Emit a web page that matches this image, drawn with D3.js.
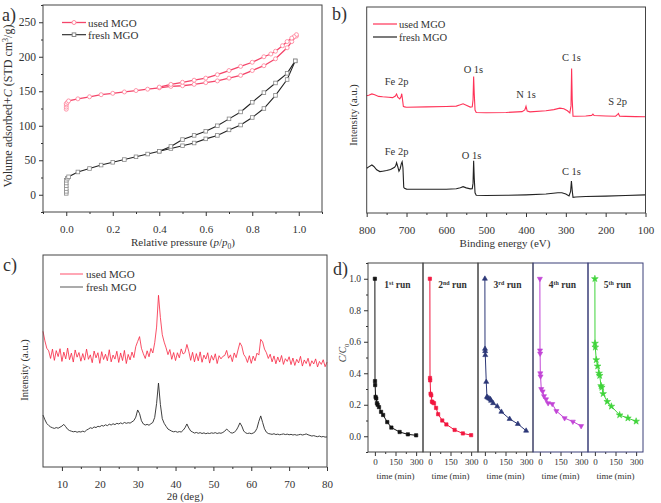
<!DOCTYPE html>
<html><head><meta charset="utf-8">
<script src="https://cdn.jsdelivr.net/npm/d3@7"></script>
<style>
body{margin:0;background:#fff}
svg{display:block}
text{font-family:"Liberation Serif","Times New Roman",serif;fill:#333}
</style>
</head><body>
<svg id="chart" width="661" height="503"></svg>
<script>
// ---------------- Panel a: N2 isotherms ----------------
const usedAdsP = [0.0,0.0,0.0,0.0,0.005,0.01,0.05,0.1,0.15,0.2,0.25,0.3,0.35,0.4,0.45,0.5,0.55,0.6,0.65,0.7,0.75,0.8,0.85,0.9,0.95,0.97,0.99];
const usedAdsV = [124,127,130,132,134,136,139,142,145,147,149,151,153,155,157,158,160,162.5,165,169,173,180,187,197,213,222,230];
const usedDesP = [0.99,0.98,0.97,0.95,0.93,0.9,0.88,0.85,0.8,0.75,0.7,0.65,0.6,0.55,0.5,0.45,0.4];
const usedDesV = [232,229,227,222,216,208,204,200,192,186,180,174,169,166,163,160,156];
const freshAdsP = [0,0,0,0,0,0,0.005,0.01,0.05,0.1,0.15,0.2,0.25,0.3,0.35,0.4,0.45,0.5,0.55,0.6,0.65,0.7,0.75,0.8,0.85,0.9,0.95,0.985];
const freshAdsV = [2,5,9,13,17,21,24,26,33,38,43,47,51,55,59,63,67,71,75,81,86,94,101,112,125,144,167,194];
const freshDesP = [0.985,0.95,0.9,0.85,0.8,0.75,0.7,0.65,0.6,0.55,0.5,0.45,0.4];
const freshDesV = [194,176,162,148,134,120,110,100,92,86,80,70,63];
const aXTicks = [0,0.2,0.4,0.6,0.8,1.0];
const aYTicks = [0,50,100,150,200,250];

// ---------------- Panel b: XPS survey ----------------
const xpsUsedE = [800,795,787,780,770,760,745,735,728,725,722,717,714,712,710,708,705,700,650,600,575,565,558,550,540,535,533,531.5,530,528,525,500,450,410,403,400,397,390,350,330,315,305,296,290,287,285.5,284,282,275,250,235,232,229,200,175,170,168,165,150,125,100];
const xpsUsedI = [56.9,57.2,57.8,57.4,56.6,56.4,56.2,56.0,56.8,57.8,56.2,55.4,56.3,57.9,55.0,51.8,51.5,51.3,51.5,51.7,51.9,52.5,53.0,52.3,51.4,51.6,55.0,66.2,58.0,50.0,48.8,48.7,48.8,49.2,50.0,51.8,49.5,49.1,49.6,50.2,50.9,50.6,49.6,48.6,52.0,70.2,55.0,47.0,47.0,47.1,47.4,48.0,47.3,47.1,47.0,47.9,48.3,47.0,46.9,46.8,46.7];
const xpsFreshE = [800,795,787,782,775,767,760,750,740,730,727,725,722,719,716,713,711,709,707,705,700,650,600,575,565,558,550,540,535,533,531.5,530,528,525,500,450,400,350,320,310,300,292,288,286,284,282,275,250,200,150,100];
const xpsFreshI = [21.7,22.4,23.3,22.6,21.0,20.1,20.3,20.6,21.1,22.2,23.0,24.4,22.5,20.3,21.5,24.0,24.9,22.0,12.5,12.0,11.6,11.5,11.5,11.8,12.3,12.8,12.2,11.7,11.8,14.5,25.4,17.0,9.8,8.6,8.5,8.6,8.8,9.2,9.8,9.8,9.2,8.3,10.5,15.5,11.0,7.6,7.8,8.0,8.2,8.5,8.8];
const bXTicks = [800,700,600,500,400,300,200,100];
const xpsUsedLabels = [{t:"Fe 2p",e:725,i:62},{t:"O 1s",e:532,i:68},{t:"N 1s",e:400,i:56},{t:"C 1s",e:286,i:74},{t:"S 2p",e:170,i:52.5}];
const xpsFreshLabels = [{t:"Fe 2p",e:725,i:28},{t:"O 1s",e:537,i:26},{t:"C 1s",e:286,i:18.5}];

// ---------------- Panel c: XRD ----------------
const xrdStart = 5, xrdStep = 0.5;
const xrdUsed = [
64.0,59.5,56.0,54.8,51.2,55.6,50.3,54.9,52.1,55.8,
49.8,54.2,51.0,56.1,50.6,53.7,49.5,55.2,51.8,54.0,
49.9,53.5,50.4,55.6,50.8,52.9,49.2,54.7,51.5,53.9,
48.9,54.4,50.7,53.2,50.1,55.3,49.6,52.8,50.9,54.6,
49.3,53.8,50.2,55.0,48.8,53.1,50.5,54.2,51.6,56.8,
59.2,61.5,56.0,53.4,51.2,54.8,52.0,55.9,53.8,58.6,
66.0,81.0,70.5,62.4,58.9,56.2,53.0,55.4,50.8,54.0,
50.2,53.9,51.5,55.7,53.3,54.0,57.8,54.6,50.3,54.1,
49.6,53.5,50.1,54.3,49.4,52.8,50.9,53.9,49.0,52.6,
50.4,53.4,48.8,52.5,51.0,52.2,52.6,55.0,51.3,52.9,
49.7,53.8,51.6,55.2,58.6,57.0,53.1,51.8,49.3,52.5,
48.9,52.3,50.1,53.7,52.8,60.2,59.0,55.6,53.9,51.2,
53.2,49.6,52.4,48.7,51.9,49.5,52.6,48.4,51.1,49.8,
52.0,48.3,51.4,47.9,50.8,49.1,52.2,47.6,50.5,48.8,
51.3,47.5,50.1,48.6,51.0,47.2,49.8,48.4,50.6,47.3,
49.5];
const xrdFresh = [
24.5,22.3,20.5,19.6,18.9,18.5,18.2,18.6,18.3,18.8,
19.3,20.1,19.0,17.8,17.2,16.9,16.6,16.8,16.4,16.7,
16.5,16.9,16.6,17.4,17.9,18.5,18.2,18.9,18.6,19.2,
19.0,19.6,19.3,19.9,19.5,20.2,19.8,20.4,20.0,20.6,
20.3,20.8,20.4,21.0,20.6,20.9,20.7,21.3,21.9,23.5,
26.9,25.2,21.8,20.3,19.8,20.1,19.7,20.4,21.0,23.4,
30.0,39.6,29.5,22.8,20.6,19.2,17.9,17.4,16.9,16.6,
16.8,16.4,16.7,16.5,17.3,18.5,20.3,18.4,17.0,16.5,
16.0,16.3,15.9,16.2,15.8,16.1,15.7,16.0,15.8,16.1,
15.9,16.2,15.8,16.1,15.9,16.3,16.9,17.9,17.1,16.2,
16.0,16.4,17.2,18.8,20.8,19.3,17.0,16.1,15.8,16.0,
15.7,16.0,16.6,18.2,21.5,24.1,21.0,18.0,16.4,15.8,
15.6,15.4,15.7,15.3,15.5,15.2,15.4,15.6,15.3,15.5,
15.2,15.4,15.1,15.3,15.0,15.2,15.4,15.1,15.3,15.6,
15.2,14.9,14.6,14.8,14.5,14.3,14.6,14.2,14.4,14.1,
14.2];
const cXTicks = [10,20,30,40,50,60,70,80];

// ---------------- Panel d: recycling runs ----------------
const run1T = [0,1,2,5,10,15,20,30,45,60,90,120,180,240,300];
const run1C = [1.0,0.35,0.325,0.25,0.24,0.21,0.2,0.185,0.155,0.135,0.09,0.055,0.027,0.012,0.006];
const run2T = [0,1,2,5,10,15,20,30,45,60,90,120,180,240,300];
const run2C = [1.0,0.37,0.355,0.27,0.26,0.22,0.215,0.21,0.18,0.14,0.1,0.075,0.04,0.018,0.007];
const run3T = [0,1,2,3,10,15,20,30,40,45,60,90,120,180,240,300];
const run3C = [1.0,0.555,0.54,0.515,0.345,0.25,0.245,0.24,0.235,0.225,0.21,0.19,0.155,0.11,0.078,0.035];
const run4T = [0,1,2,3,5,10,20,30,45,60,90,120,180,240,300];
const run4C = [1.0,0.545,0.525,0.40,0.38,0.30,0.285,0.255,0.235,0.21,0.205,0.16,0.115,0.093,0.065];
const run5T = [0,1,3,10,20,30,35,45,50,60,90,120,180,240,300];
const run5C = [1.0,0.59,0.565,0.485,0.445,0.40,0.385,0.32,0.31,0.27,0.22,0.19,0.135,0.115,0.095];
const runNames = [["1","st"],["2","nd"],["3","rd"],["4","th"],["5","th"]];
const runColors = ["#111111","#f2173f","#2c3777","#c245d6","#3fd43a"];
const dYTicks = [0,0.2,0.4,0.6,0.8,1.0];
const dXTicks = [0,150,300];

// ================= drawing =================
const svg = d3.select("#chart");
const FRAME = "#444";

function frame(x0,y0,x1,y1,col){
  svg.append("rect").attr("x",x0).attr("y",y0).attr("width",x1-x0).attr("height",y1-y0)
    .attr("fill","none").attr("stroke",col||FRAME).attr("stroke-width",1);
}
function styleAxis(g, fs){
  g.select(".domain").remove();
  g.selectAll("line").attr("stroke","#333");
  g.selectAll("text").attr("font-size",fs).attr("font-family","Liberation Serif").attr("fill","#333");
}
function bottomAxis(scale, y, major, minor, fmt, fs, pad){
  const g = svg.append("g").attr("transform",`translate(0,${y})`)
    .call(d3.axisBottom(scale).tickValues(major).tickSize(4).tickPadding(pad).tickFormat(fmt));
  styleAxis(g, fs);
  if(minor){
    const m = svg.append("g").attr("transform",`translate(0,${y})`)
      .call(d3.axisBottom(scale).tickValues(minor).tickSize(2).tickFormat(""));
    styleAxis(m, fs);
  }
}
function leftAxis(scale, x, major, minor, fmt, fs, pad){
  const g = svg.append("g").attr("transform",`translate(${x},0)`)
    .call(d3.axisLeft(scale).tickValues(major).tickSize(4).tickPadding(pad).tickFormat(fmt));
  styleAxis(g, fs);
  if(minor){
    const m = svg.append("g").attr("transform",`translate(${x},0)`)
      .call(d3.axisLeft(scale).tickValues(minor).tickSize(2).tickFormat(""));
    styleAxis(m, fs);
  }
}
function text(x,y,str,opts={}){
  const t = svg.append("text").attr("x",x).attr("y",y).text(str)
    .attr("font-size",opts.fs||12).attr("text-anchor",opts.anchor||"start");
  if(opts.fill) t.attr("fill",opts.fill);
  if(opts.weight) t.attr("font-weight",opts.weight);
  return t;
}
function vlabel(x,y,fs){
  return svg.append("text").attr("transform",`translate(${x},${y}) rotate(-90)`)
    .attr("text-anchor","middle").attr("font-size",fs);
}

// ---- Panel a ----
{
  const x = d3.scaleLinear([-0.1,1.1],[43,322]);
  const y = d3.scaleLinear([-25,275],[212,5]);
  const RED = "#f4456a", REDM = "#ff8aa0";
  const line = d3.line().x(d=>x(d[0])).y(d=>y(d[1]));
  const ua = usedAdsP.map((p,i)=>[p,usedAdsV[i]]);
  const ud = usedDesP.map((p,i)=>[p,usedDesV[i]]);
  const fa = freshAdsP.map((p,i)=>[p,freshAdsV[i]]);
  const fd = freshDesP.map((p,i)=>[p,freshDesV[i]]);
  [fa,fd].forEach(s=>svg.append("path").attr("d",line(s)).attr("fill","none").attr("stroke","#222").attr("stroke-width",1.1));
  [ua,ud].forEach(s=>svg.append("path").attr("d",line(s)).attr("fill","none").attr("stroke",RED).attr("stroke-width",1.3));
  fa.concat(fd).forEach(d=>svg.append("rect").attr("x",x(d[0])-1.8).attr("y",y(d[1])-1.8).attr("width",3.6).attr("height",3.6)
    .attr("fill","#fff").attr("stroke","#888").attr("stroke-width",0.8));
  ua.concat(ud).forEach(d=>svg.append("circle").attr("cx",x(d[0])).attr("cy",y(d[1])).attr("r",2)
    .attr("fill","#fff").attr("stroke",REDM).attr("stroke-width",0.9));
  frame(43,5,322,212);
  bottomAxis(x,212,aXTicks,[-0.1,0.1,0.3,0.5,0.7,0.9,1.1],d3.format(".1f"),11,9);
  leftAxis(y,43,aYTicks,[-25,25,75,125,175,225,275],d=>d,11.5,3);
  // legend
  svg.append("line").attr("x1",62).attr("x2",86).attr("y1",22.5).attr("y2",22.5).attr("stroke",RED).attr("stroke-width",1.3);
  svg.append("circle").attr("cx",74).attr("cy",22.5).attr("r",2).attr("fill","#fff").attr("stroke",REDM);
  text(88,26.5,"used MGO",{fs:11});
  svg.append("line").attr("x1",62).attr("x2",86).attr("y1",34.7).attr("y2",34.7).attr("stroke","#222").attr("stroke-width",1.1);
  svg.append("rect").attr("x",72.2).attr("y",32.9).attr("width",3.6).attr("height",3.6).attr("fill","#fff").attr("stroke","#888");
  text(88,38.7,"fresh MGO",{fs:11});
  const yl = vlabel(12,106,12);
  yl.append("tspan").text("Volume adsorbed+");
  yl.append("tspan").attr("font-style","italic").text("C");
  yl.append("tspan").text(" (STD cm");
  yl.append("tspan").attr("dy",-4).attr("font-size",8).text("3");
  yl.append("tspan").attr("dy",4).text("/g)");
  const xl = text(183,246,"",{fs:11,anchor:"middle"});
  xl.append("tspan").text("Relative pressure (");
  xl.append("tspan").attr("font-style","italic").text("p");
  xl.append("tspan").text("/");
  xl.append("tspan").attr("font-style","italic").text("p");
  xl.append("tspan").attr("dy",3).attr("font-size",7.5).text("0");
  xl.append("tspan").attr("dy",-3).text(")");
  text(2,21,"a)",{fs:18});
}

// ---- Panel b ----
{
  const x = d3.scaleLinear([800,100],[366.7,645.5]);
  const y = d3.scaleLinear([0,100],[213,7]);
  const RED = "#ff3358";
  const line = d3.line().x(d=>x(d[0])).y(d=>y(d[1]));
  svg.append("path").attr("d",line(xpsFreshE.map((e,i)=>[e,xpsFreshI[i]]))).attr("fill","none").attr("stroke","#222").attr("stroke-width",1.1);
  svg.append("path").attr("d",line(xpsUsedE.map((e,i)=>[e,xpsUsedI[i]]))).attr("fill","none").attr("stroke",RED).attr("stroke-width",1.1);
  frame(366.7,7,645.5,213);
  bottomAxis(x,213,bXTicks,[750,650,550,450,350,250,150],d=>d,11,9);
  xpsUsedLabels.forEach(l=>text(x(l.e),y(l.i),l.t,{fs:10.5,anchor:"middle",fill:RED}));
  xpsFreshLabels.forEach(l=>text(x(l.e),y(l.i),l.t,{fs:10.5,anchor:"middle",fill:"#222"}));
  svg.append("line").attr("x1",373).attr("x2",397).attr("y1",24).attr("y2",24).attr("stroke",RED).attr("stroke-width",1.2);
  text(399,28,"used MGO",{fs:10.5});
  svg.append("line").attr("x1",373).attr("x2",397).attr("y1",37).attr("y2",37).attr("stroke","#222").attr("stroke-width",1.2);
  text(399,41,"fresh MGO",{fs:10.5});
  vlabel(357,115,10.5).text("Intensity (a.u.)");
  text(505,246.5,"Binding energy (eV)",{fs:11,anchor:"middle"});
  text(332,20,"b)",{fs:18});
}

// ---- Panel c ----
{
  const x = d3.scaleLinear([5,80],[43,327]);
  const y = d3.scaleLinear([0,100],[467,255]);
  const RED = "#f8233f";
  const line = d3.line().x(d=>x(d[0])).y(d=>y(d[1]));
  svg.append("path").attr("d",line(xrdFresh.map((v,i)=>[xrdStart+i*xrdStep,v]))).attr("fill","none").attr("stroke","#2a2a2a").attr("stroke-width",0.9);
  svg.append("path").attr("d",line(xrdUsed.map((v,i)=>[xrdStart+i*xrdStep,v]))).attr("fill","none").attr("stroke",RED).attr("stroke-width",0.8);
  frame(43,255,327,467);
  bottomAxis(x,467,cXTicks,[15,25,35,45,55,65,75],d=>d,11,9);
  svg.append("line").attr("x1",60).attr("x2",83).attr("y1",274).attr("y2",274).attr("stroke","#ff6078").attr("stroke-width",1.1);
  text(86,278,"used MGO",{fs:11});
  svg.append("line").attr("x1",60).attr("x2",83).attr("y1",287).attr("y2",287).attr("stroke","#666").attr("stroke-width",1.1);
  text(86,291,"fresh MGO",{fs:11});
  vlabel(28,370,10.5).text("Intensity (a.u.)");
  text(185,500,"2θ (deg)",{fs:11,anchor:"middle"});
  text(3,271,"c)",{fs:18});
}

// ---- Panel d ----
{
  const y = d3.scaleLinear([-0.1,1.1],[452,263]);
  const W = 55, L0 = 368;
  const runsT = [run1T,run2T,run3T,run4T,run5T];
  const runsC = [run1C,run2C,run3C,run4C,run5C];
  const symbols = [d3.symbolSquare,d3.symbolSquare,d3.symbolTriangle,d3.symbolTriangle,d3.symbolStar];
  const frameCols = ["#444","#444","#444","#3a3f78","#3a3f78"];
  runsT.forEach((T,k)=>{
    const left = L0 + k*W;
    const x = d3.scaleLinear([-50,350],[left,left+W]);
    const pts = T.map((t,i)=>[t,runsC[k][i]]);
    svg.append("path").attr("d",d3.line().x(d=>x(d[0])).y(d=>y(d[1]))(pts))
      .attr("fill","none").attr("stroke",runColors[k]).attr("stroke-width",1);
    const sym = d3.symbol().type(symbols[k]).size(k===4?14:11);
    pts.forEach(d=>svg.append("path").attr("d",sym()).attr("transform",`translate(${x(d[0])},${y(d[1])})${k===3?" rotate(180)":""}`)
      .attr("fill",runColors[k]).attr("stroke",runColors[k]).attr("stroke-width",0.6));
    bottomAxis(x,452,dXTicks,[75,225],d=>d,9,3);
    text(left+W/2,478.5,"time (min)",{fs:9,anchor:"middle"});
    const rl = text(left+W/2+2,288,"",{fs:9.5,anchor:"middle",weight:"bold"});
    rl.append("tspan").text(runNames[k][0]);
    rl.append("tspan").attr("dy",-3.5).attr("font-size",6).text(runNames[k][1]);
    rl.append("tspan").attr("dy",3.5).text(" run");
    frame(left,263,left+W,452,frameCols[k]);
  });
  leftAxis(y,L0,dYTicks,[-0.1,0.1,0.3,0.5,0.7,0.9,1.1],d3.format(".1f"),9.5,3);
  const yl = vlabel(346,353,9.5);
  yl.append("tspan").attr("font-style","italic").text("C/C");
  yl.append("tspan").attr("dy",2.5).attr("font-size",6.5).text("0");
  text(333,275,"d)",{fs:18});
}
</script>
</body></html>
